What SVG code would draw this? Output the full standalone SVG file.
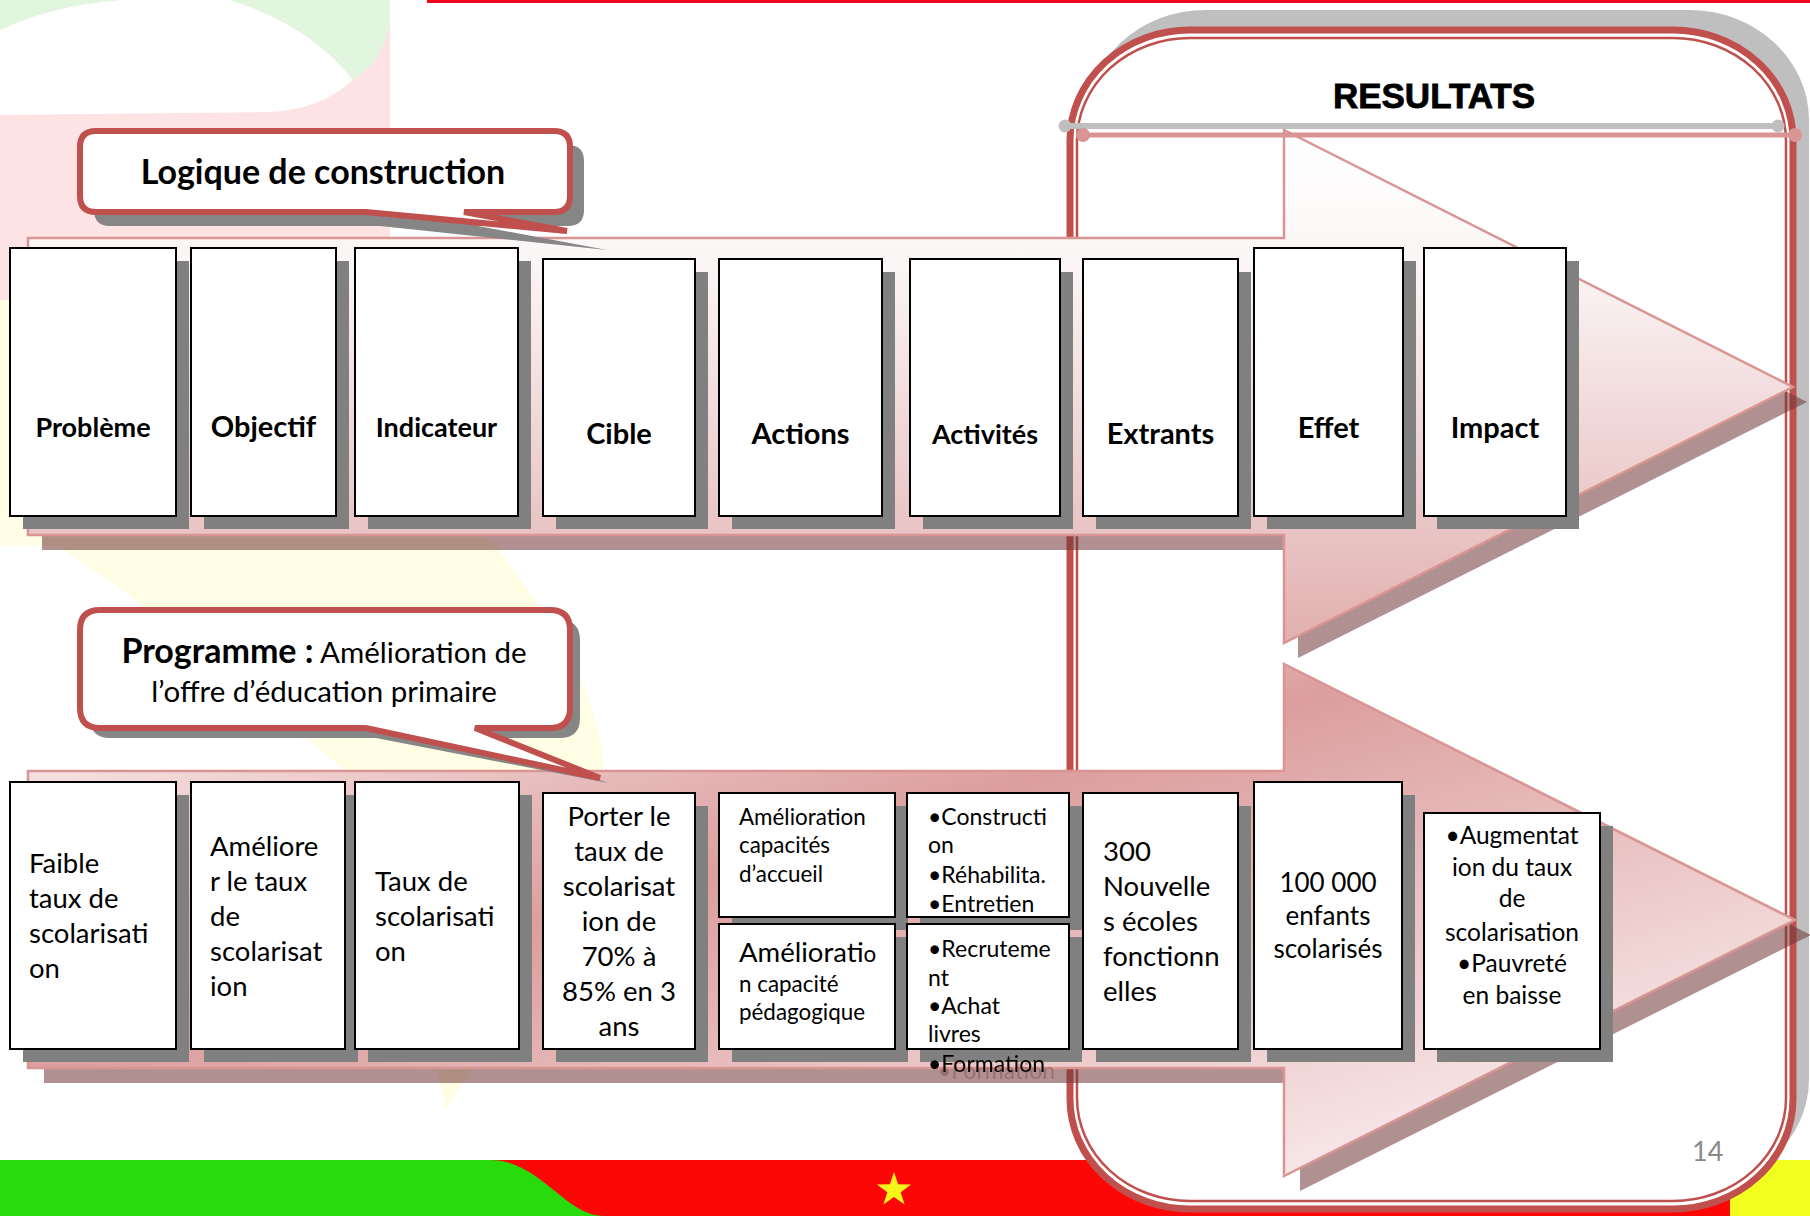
<svg xmlns="http://www.w3.org/2000/svg" width="1810" height="1216" viewBox="0 0 1810 1216">
<defs>
<style>
.bx{fill:#fff;stroke:#000;stroke-width:2}
.sh{fill:#808080}
.lbl{font-family:Lato,'Open Sans','DejaVu Sans',sans-serif;font-weight:bold;text-anchor:middle;fill:#000}
.t{font-family:Lato,'Open Sans','DejaVu Sans',sans-serif;fill:#000;font-size:27.5px}
.tc{text-anchor:middle}
.s23{font-size:23px}
.s22{font-size:22.4px}
.ash{fill:#6f3535;opacity:0.55}
.arr{stroke:#d99594;stroke-width:2.5}
.redline{fill:none;stroke:#c0504d}
</style>
<linearGradient id="gTop" gradientUnits="userSpaceOnUse" x1="0" y1="130" x2="0" y2="643">
<stop offset="0" stop-color="#ffffff"/>
<stop offset="0.25" stop-color="#fbf6f6"/>
<stop offset="1" stop-color="#e2afaf"/>
</linearGradient>
<linearGradient id="gBot" gradientUnits="userSpaceOnUse" x1="213" y1="732" x2="417" y2="1428">
<stop offset="0" stop-color="#f4dede"/>
<stop offset="0.38" stop-color="#dc9e9e"/>
<stop offset="1" stop-color="#f7e6e6"/>
</linearGradient>
<filter id="tsh" x="-10%" y="-60%" width="130%" height="220%">
<feDropShadow dx="10" dy="7" stdDeviation="0.5" flood-color="#6f3535" flood-opacity="0.35"/>
</filter>
</defs>

<!-- background decoration -->
<g id="background">
<rect x="0" y="0" width="1810" height="1216" fill="#ffffff"/>
<rect x="0" y="0" width="390" height="300" fill="#fde3e3"/>
<path d="M0,300 H390 V500 L491,541 Q610,690 603,780 Q560,930 446,1110 Q400,900 339,766 Q200,640 58,546 L0,546 Z" fill="#fffde3"/>
<path d="M0,30 Q50,6 120,0 L230,0 Q310,25 353,80 Q320,110 270,112 L0,115 Z" fill="#ffffff"/>
<path d="M230,0 H390 V20 Q385,60 353,80 Q310,25 230,0 Z" fill="#e2f5df"/>
<path d="M0,0 H120 Q50,6 0,30 Z" fill="#e2f5df"/>
<rect x="427" y="0" width="1383" height="3" fill="#f5051e"/>
<rect x="0" y="1160" width="1810" height="56" fill="#fc0606"/>
<path d="M0,1160 H490 C540,1160 565,1216 604,1216 H0 Z" fill="#27dc0a"/>
<rect x="1730" y="1160" width="80" height="56" fill="#f2ff1e"/>
<polygon points="894,1172 898.1,1184.3 911.1,1184.4 900.7,1192.2 904.6,1204.6 894,1197 883.4,1204.6 887.3,1192.2 876.9,1184.4 889.9,1184.3" fill="#f5f51a"/>
</g>

<!-- RESULTATS frame -->
<g id="resultats-frame">
<rect x="1086" y="10" width="723" height="1179" rx="120" ry="110" fill="#bfbfbf"/>
<rect x="1070" y="30" width="723" height="1179" rx="120" ry="110" class="redline" style="fill:#fff" stroke-width="7"/>
<rect x="1077" y="38" width="709" height="1163" rx="113" ry="103" class="redline" stroke-width="2.5"/>
</g>

<!-- flow arrows -->
<g id="connectors">
<polygon class="ash" transform="translate(14,15)" points="28,238 1284,238 1284,130 1793,387 1284,643 1284,535 28,535"/>
<polygon class="arr" fill="url(#gTop)" points="28,238 1284,238 1284,130 1793,387 1284,643 1284,535 28,535"/>
<polygon class="ash" transform="translate(16,15)" points="28,771 1284,771 1284,664 1795,920 1284,1176 1284,1068 28,1068"/>
<polygon class="arr" fill="url(#gBot)" points="28,771 1284,771 1284,664 1795,920 1284,1176 1284,1068 28,1068"/>
</g>

<g id="resultats-header">
<line x1="1065" y1="126" x2="1778" y2="126" stroke="#bfbfbf" stroke-width="6" stroke-linecap="round"/>
<circle cx="1065" cy="126" r="6.5" fill="#bfbfbf"/>
<circle cx="1778" cy="126" r="6.5" fill="#bfbfbf"/>
<line x1="1083" y1="135" x2="1795" y2="135" stroke="#d99594" stroke-width="5" stroke-linecap="round"/>
<circle cx="1083" cy="135" r="7" fill="#d99594"/>
<circle cx="1795" cy="135" r="7" fill="#d99594"/>
<text x="1434" y="108" font-family="'Liberation Sans',Arial,sans-serif" font-weight="bold" font-size="35" text-anchor="middle" fill="#000" stroke="#000" stroke-width="0.8">RESULTATS</text>
</g>

<!-- callouts -->
<g id="callout-logique">
<path d="M110,145 H568 Q584,145 584,161 V210 Q584,226 568,226 H478 L607,250 L380,226 H110 Q94,226 94,210 V161 Q94,145 110,145 Z" fill="#868686"/>
<path d="M96,131 H554 Q570,131 570,147 V196 Q570,212 554,212 H464 L567,231 L366,212 H96 Q80,212 80,196 V147 Q80,131 96,131 Z" fill="#fff" stroke="#c0504d" stroke-width="6" stroke-linejoin="miter"/>
<text class="lbl" x="323" y="184" font-size="34">Logique de construction</text>
</g>

<g id="callout-programme">
<path d="M110,620 H560 Q580,620 580,640 V718 Q580,738 560,738 H485 L608,783 L376,738 H110 Q90,738 90,718 V640 Q90,620 110,620 Z" fill="#868686"/>
<path d="M100,610 H550 Q570,610 570,630 V708 Q570,728 550,728 H475 L600,778 L366,728 H100 Q80,728 80,708 V630 Q80,610 100,610 Z" fill="#fff" stroke="#c0504d" stroke-width="6"/>
<text class="t tc" x="324" y="663" style="font-size:29.5px"><tspan font-weight="bold" style="font-size:34px">Programme :</tspan> Amélioration de</text>
<text class="t tc" x="324" y="702" style="font-size:29.5px">l’offre d’éducation primaire</text>
</g>

<!-- top row -->
<g id="n-probleme"><rect class="sh" x="23" y="261" width="166" height="268"/><rect class="bx" x="10" y="248" width="166" height="268"/><text class="lbl" x="93" y="437" font-size="27">Problème</text></g>
<g id="n-objectif"><rect class="sh" x="204" y="261" width="145" height="268"/><rect class="bx" x="191" y="248" width="145" height="268"/><text class="lbl" x="263.5" y="437" font-size="29">Objectif</text></g>
<g id="n-indicateur"><rect class="sh" x="368" y="261" width="163" height="268"/><rect class="bx" x="355" y="248" width="163" height="268"/><text class="lbl" x="436.5" y="437" font-size="27">Indicateur</text></g>
<g id="n-cible"><rect class="sh" x="556" y="272" width="152" height="257"/><rect class="bx" x="543" y="259" width="152" height="257"/><text class="lbl" x="619" y="444" font-size="29">Cible</text></g>
<g id="n-actions"><rect class="sh" x="732" y="272" width="163" height="257"/><rect class="bx" x="719" y="259" width="163" height="257"/><text class="lbl" x="800.5" y="444" font-size="29">Actions</text></g>
<g id="n-activites"><rect class="sh" x="923" y="272" width="150" height="257"/><rect class="bx" x="910" y="259" width="150" height="257"/><text class="lbl" x="985" y="444" font-size="27">Activités</text></g>
<g id="n-extrants"><rect class="sh" x="1096" y="272" width="155" height="257"/><rect class="bx" x="1083" y="259" width="155" height="257"/><text class="lbl" x="1160.5" y="444" font-size="29">Extrants</text></g>
<g id="n-effet"><rect class="sh" x="1267" y="261" width="149" height="268"/><rect class="bx" x="1254" y="248" width="149" height="268"/><text class="lbl" x="1328.5" y="438" font-size="29">Effet</text></g>
<g id="n-impact"><rect class="sh" x="1437" y="261" width="142" height="268"/><rect class="bx" x="1424" y="248" width="142" height="268"/><text class="lbl" x="1495" y="438" font-size="29">Impact</text></g>

<!-- bottom row -->
<g id="b-probleme"><rect class="sh" x="23" y="795" width="166" height="267"/><rect class="bx" x="10" y="782" width="166" height="267"/>
<text class="t" x="29" y="873">Faible</text><text class="t" x="29" y="908">taux de</text><text class="t" x="29" y="943">scolarisati</text><text class="t" x="29" y="978">on</text></g>
<g id="b-objectif"><rect class="sh" x="204" y="795" width="154" height="267"/><rect class="bx" x="191" y="782" width="154" height="267"/>
<text class="t" x="210" y="856">Améliore</text><text class="t" x="210" y="891">r le taux</text><text class="t" x="210" y="926">de</text><text class="t" x="210" y="961">scolarisat</text><text class="t" x="210" y="996">ion</text></g>
<g id="b-indicateur"><rect class="sh" x="368" y="795" width="164" height="267"/><rect class="bx" x="355" y="782" width="164" height="267"/>
<text class="t" x="375" y="891">Taux de</text><text class="t" x="375" y="926">scolarisati</text><text class="t" x="375" y="961">on</text></g>
<g id="b-cible"><rect class="sh" x="556" y="806" width="152" height="256"/><rect class="bx" x="543" y="793" width="152" height="256"/>
<text class="t tc" x="619" y="826">Porter le</text><text class="t tc" x="619" y="861">taux de</text><text class="t tc" x="619" y="896">scolarisat</text><text class="t tc" x="619" y="931">ion de</text><text class="t tc" x="619" y="966">70% à</text><text class="t tc" x="619" y="1001">85% en 3</text><text class="t tc" x="619" y="1036">ans</text></g>
<g id="b-action-accueil"><rect class="sh" x="732" y="806" width="176" height="124"/><rect class="bx" x="719" y="793" width="176" height="124"/>
<text class="t s22" x="739" y="825">Amélioration</text><text class="t s22" x="739" y="853">capacités</text><text class="t s22" x="739" y="882">d’accueil</text></g>
<g id="b-action-pedagogie"><rect class="sh" x="732" y="937" width="176" height="125"/><rect class="bx" x="719" y="924" width="176" height="125"/>
<text class="t" x="739" y="962">Améliorati<tspan style="font-size:22.4px">o</tspan></text><text class="t s22" x="739" y="992">n capacité</text><text class="t s22" x="739" y="1020">pédagogique</text></g>
<g id="b-activites-accueil"><rect class="sh" x="920" y="806" width="162" height="124"/><rect class="bx" x="907" y="793" width="162" height="124"/>
<text class="t s23" x="928" y="825">•Constructi</text><text class="t s23" x="928" y="853">on</text><text class="t s23" x="928" y="883">•Réhabilita.</text><text class="t s23" x="928" y="912">•Entretien</text></g>
<g id="b-activites-pedagogie"><rect class="sh" x="920" y="937" width="162" height="125"/><rect class="bx" x="907" y="924" width="162" height="125"/>
<text class="t s23" x="928" y="957">•Recruteme</text><text class="t s23" x="928" y="986">nt</text><text class="t s23" x="928" y="1014">•Achat</text><text class="t s23" x="928" y="1042">livres</text><text class="t s23" x="928" y="1072" filter="url(#tsh)">•Formation</text></g>
<g id="b-extrants"><rect class="sh" x="1096" y="806" width="155" height="256"/><rect class="bx" x="1083" y="793" width="155" height="256"/>
<text class="t" x="1103" y="861">300</text><text class="t" x="1103" y="896">Nouvelle</text><text class="t" x="1103" y="931">s écoles</text><text class="t" x="1103" y="966">fonctionn</text><text class="t" x="1103" y="1001">elles</text></g>
<g id="b-effet"><rect class="sh" x="1267" y="795" width="148" height="267"/><rect class="bx" x="1254" y="782" width="148" height="267"/>
<text class="t tc" x="1328" y="892" style="font-size:26px">100 000</text><text class="t tc" x="1328" y="925" style="font-size:26px">enfants</text><text class="t tc" x="1328" y="958" style="font-size:26px">scolarisés</text></g>
<g id="b-impact"><rect class="sh" x="1437" y="826" width="176" height="236"/><rect class="bx" x="1424" y="813" width="176" height="236"/>
<text class="t tc" x="1512" y="844" style="font-size:24.5px">•Augmentat</text><text class="t tc" x="1512" y="876" style="font-size:24.5px">ion du taux</text><text class="t tc" x="1512" y="907" style="font-size:24.5px">de</text><text class="t tc" x="1512" y="941" style="font-size:24.5px">scolarisation</text><text class="t tc" x="1512" y="972" style="font-size:24.5px">•Pauvreté</text><text class="t tc" x="1512" y="1004" style="font-size:24.5px">en baisse</text></g>

<text id="page-number" x="1692" y="1161" font-family="Lato,'Open Sans',sans-serif" font-size="27" fill="#8a8a8a">14</text>
</svg>
